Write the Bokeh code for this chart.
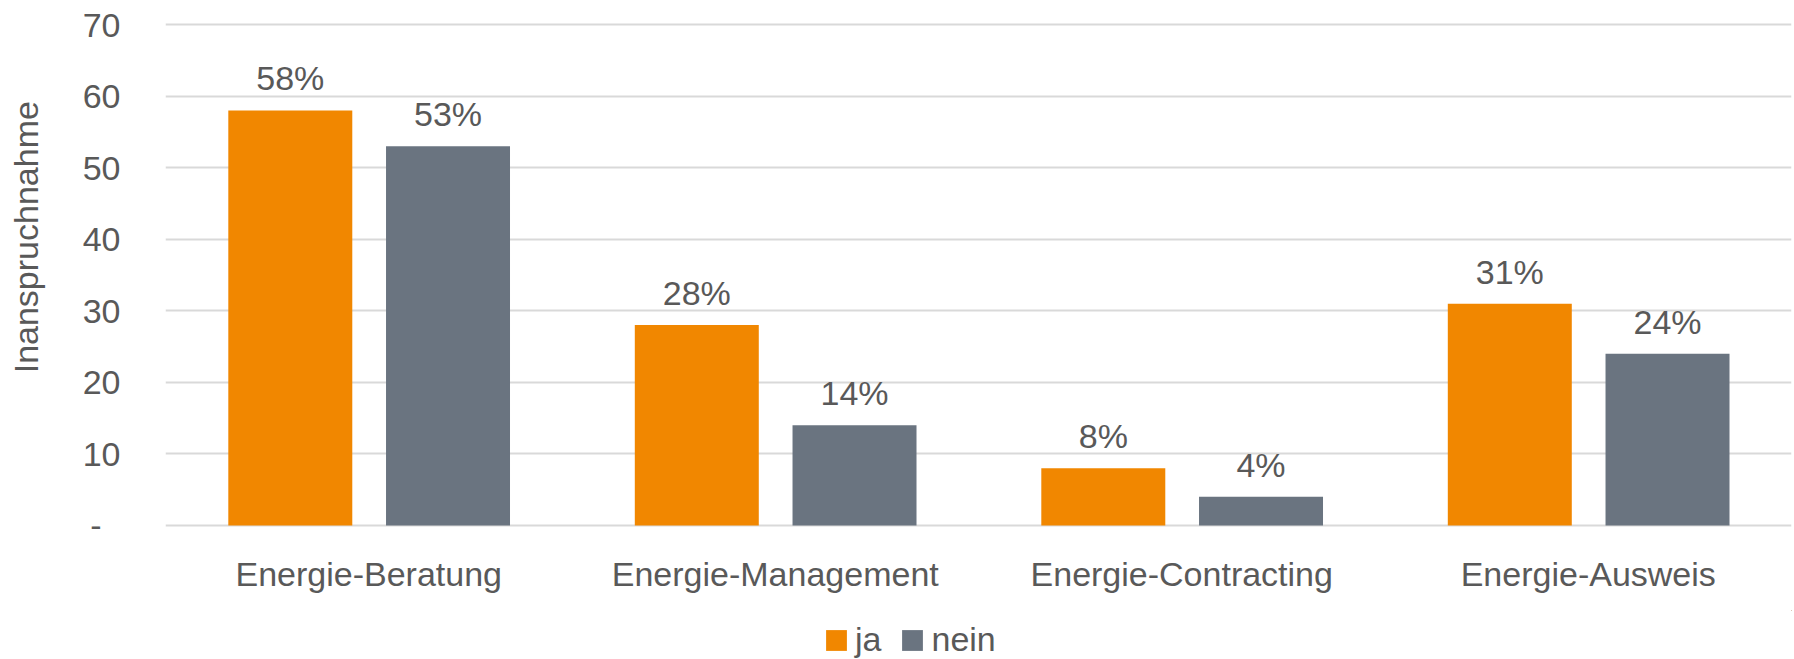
from bokeh.plotting import figure
from bokeh.layouts import column
from bokeh.models import (ColumnDataSource, FactorRange, Range1d, FixedTicker,
                          LabelSet, Legend, LegendItem)
from bokeh.core.properties import value
from bokeh.transform import dodge
from bokeh.embed import file_html
from bokeh.resources import INLINE

categories = ["Energie-Beratung", "Energie-Management", "Energie-Contracting", "Energie-Ausweis"]
ja = [58, 28, 8, 31]
nein = [53, 14, 4, 24]
ja_labels = ["58%", "28%", "8%", "31%"]
nein_labels = ["53%", "14%", "4%", "24%"]
y_ticks = [0, 10, 20, 30, 40, 50, 60, 70]
y_label = "Inanspruchnahme"
series_names = ["ja", "nein"]

ORANGE = "#F18700"
GREY = "#6A7480"
TEXT = "#595959"
FONT = "Liberation Sans"
FS = "34px"
NB = "\u00a0"

src = ColumnDataSource(dict(cat=categories, ja=ja, nein=nein,
                            ja_lab=ja_labels, nein_lab=nein_labels))

p = figure(x_range=FactorRange(*categories, range_padding=0),
           y_range=Range1d(-0.28, 70.28),
           width=1794, height=610,
           output_backend="svg", toolbar_location=None,
           min_border_left=165, min_border_right=3,
           min_border_top=22, min_border_bottom=83)
p.outline_line_color = None
p.background_fill_color = "white"
p.border_fill_color = "white"

OFF_JA, OFF_NEIN, BW = -0.193, 0.195, 0.305
r_ja = p.vbar(x=dodge("cat", OFF_JA, range=p.x_range), top="ja", width=BW,
              source=src, fill_color=ORANGE, line_color=None)
r_nein = p.vbar(x=dodge("cat", OFF_NEIN, range=p.x_range), top="nein", width=BW,
                source=src, fill_color=GREY, line_color=None)

for col, ycol, off in (("ja_lab", "ja", OFF_JA), ("nein_lab", "nein", OFF_NEIN)):
    ls = LabelSet(x=dodge("cat", off, range=p.x_range), y=ycol, text=col, source=src,
                  y_offset=20, text_align="center", text_baseline="alphabetic",
                  text_font=value(FONT), text_font_size=value(FS), text_color=TEXT)
    p.add_layout(ls)

# grid
p.xgrid.grid_line_color = None
p.ygrid.grid_line_color = "#D9D9D9"
p.ygrid.grid_line_width = 2

# y axis
p.yaxis.ticker = FixedTicker(ticks=y_ticks)
p.yaxis.major_label_overrides = {0: "-" + NB + NB}
p.yaxis.axis_line_color = None
p.yaxis.major_tick_line_color = None
p.yaxis.minor_tick_line_color = None
p.yaxis.major_tick_out = 0
p.yaxis.major_tick_in = 0
p.yaxis.major_label_standoff = 45
p.yaxis.major_label_text_font = FONT
p.yaxis.major_label_text_font_size = FS
p.yaxis.major_label_text_color = TEXT
p.yaxis.axis_label = NB * 8 + y_label
p.yaxis.axis_label_standoff = 35
p.yaxis.axis_label_text_font = FONT
p.yaxis.axis_label_text_font_size = FS
p.yaxis.axis_label_text_font_style = "normal"
p.yaxis.axis_label_text_color = TEXT

# x axis
p.xaxis.axis_line_color = None
p.xaxis.major_tick_line_color = None
p.xaxis.minor_tick_line_color = None
p.xaxis.major_tick_out = 0
p.xaxis.major_tick_in = 0
p.xaxis.major_label_standoff = 27
p.xaxis.major_label_text_font = FONT
p.xaxis.major_label_text_font_size = FS
p.xaxis.major_label_text_color = TEXT

# legend strip below the chart (its frame is aligned with the chart's frame)
lf = figure(width=1794, height=49, x_range=Range1d(-2, -1), y_range=Range1d(-2, -1),
            x_axis_type=None, y_axis_type=None,
            output_backend="svg", toolbar_location=None,
            min_border_left=165, min_border_right=3, min_border_top=0, min_border_bottom=0)
lf.outline_line_color = None
lf.border_fill_color = "white"
lf.background_fill_color = "white"
lf.xgrid.visible = False
lf.ygrid.visible = False
# proxy renderers: their bars lie outside this strip's ranges, only the legend swatches show
l_ja = lf.vbar(x="ja", top="ja", width=0.1, source=src, fill_color=ORANGE, line_color=None)
l_nein = lf.vbar(x="nein", top="nein", width=0.1, source=src, fill_color=GREY, line_color=None)

legend = Legend(items=[LegendItem(label=series_names[0], renderers=[l_ja]),
                       LegendItem(label=series_names[1], renderers=[l_nein])],
                location=(658, 0), orientation="horizontal",
                glyph_width=26, glyph_height=26, label_standoff=6, spacing=18,
                padding=0, margin=0, border_line_color=None,
                background_fill_alpha=0,
                label_text_font=FONT, label_text_font_size=FS,
                label_text_color=TEXT)
lf.add_layout(legend)

layout = column(p, lf, spacing=0)
open("out.html", "w").write(file_html(layout, INLINE))
